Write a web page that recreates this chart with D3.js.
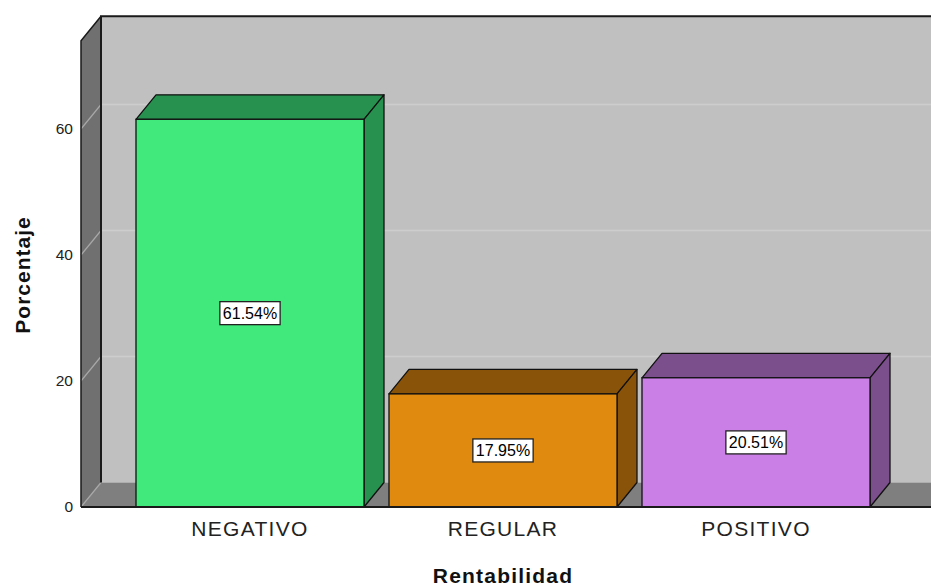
<!DOCTYPE html>
<html>
<head>
<meta charset="utf-8">
<script src="https://cdn.jsdelivr.net/npm/d3@7"></script>
<style>
  html, body { margin: 0; padding: 0; background: #ffffff; }
  svg { display: block; font-family: "Liberation Sans", Arial, sans-serif; }
</style>
</head>
<body>
<svg id="chart" width="931" height="588"></svg>
<script>
// Data
const categories = ["NEGATIVO", "REGULAR", "POSITIVO"];
const percentages = [61.54, 17.95, 20.51];
const valueLabels = ["61.54%", "17.95%", "20.51%"];
const yTicks = [0, 20, 40, 60];

// Styling
const frontColors = ["#41e87c", "#e08a0f", "#c97fe5"];
const shadeColors = ["#27914f", "#8a530a", "#7b4f8b"];

const svg = d3.select("#chart");
const W = 931;

// 3D depth offset of the walls and bars
const dx = 20, dy = -24.5;

// Front plane scales
const x = d3.scaleBand()
  .domain(categories)
  .range([123.5, 882.5])
  .paddingInner(25 / 253)
  .paddingOuter(12.5 / 253);

const y = d3.scaleLinear().domain([0, 74]).range([507, 40.8]);

const left = 81;            // front-left corner of the side wall
const right = W + 40;       // walls continue past the right edge
const y0 = y(0), yTop = y(74);

const g = svg.append("g");

// Back wall
g.append("rect")
  .attr("x", left + dx).attr("y", yTop + dy)
  .attr("width", right - left).attr("height", (y0 + dy) - (yTop + dy))
  .attr("fill", "#c0c0c0");

// Left side wall
g.append("path")
  .attr("d", `M${left},${y0} L${left},${yTop} L${left + dx},${yTop + dy} L${left + dx},${y0 + dy} Z`)
  .attr("fill", "#707070");

// Floor
g.append("path")
  .attr("d", `M${left},${y0} L${left + dx},${y0 + dy} L${right + dx},${y0 + dy} L${right},${y0} Z`)
  .attr("fill", "#7f7f7f");

// Grid lines on back wall and side wall
yTicks.forEach(t => {
  const yy = y(t);
  if (t > 0) {
    g.append("line")
      .attr("x1", left + dx).attr("x2", right + dx)
      .attr("y1", yy + dy).attr("y2", yy + dy)
      .attr("stroke", "#cdcdcd").attr("stroke-width", 1.4);
  }
  g.append("line")
    .attr("x1", left).attr("y1", yy)
    .attr("x2", left + dx).attr("y2", yy + dy)
    .attr("stroke", "#a8a8a8").attr("stroke-width", 1.2);
});

// Frame edges
const edge = (d, w) => g.append("path").attr("d", d).attr("fill", "none")
  .attr("stroke", "#1a1a1a").attr("stroke-width", w || 1.5);
edge(`M${left + dx},${y0 + dy} L${left + dx},${yTop + dy} L${right + dx},${yTop + dy}`, 2);
edge(`M${left},${y0} L${left},${yTop} L${left + dx},${yTop + dy}`, 1.5);
edge(`M${left},${y0} L${right},${y0}`, 2);

// Bars (front face, top, right side)
const bars = g.selectAll("g.bar")
  .data(categories.map((c, i) => ({ c, v: percentages[i], i })))
  .join("g").attr("class", "bar");

bars.each(function (d) {
  const b = d3.select(this);
  const x0 = x(d.c), x1 = x(d.c) + x.bandwidth();
  const yv = y(d.v);
  b.append("path")
    .attr("d", `M${x0},${yv} L${x0 + dx},${yv + dy} L${x1 + dx},${yv + dy} L${x1},${yv} Z`)
    .attr("fill", shadeColors[d.i]).attr("stroke", "#111").attr("stroke-width", 1.3)
    .attr("stroke-linejoin", "round");
  b.append("path")
    .attr("d", `M${x1},${yv} L${x1 + dx},${yv + dy} L${x1 + dx},${y0 + dy} L${x1},${y0} Z`)
    .attr("fill", shadeColors[d.i]).attr("stroke", "#111").attr("stroke-width", 1.3)
    .attr("stroke-linejoin", "round");
  b.append("rect")
    .attr("x", x0).attr("y", yv)
    .attr("width", x1 - x0).attr("height", y0 - yv)
    .attr("fill", frontColors[d.i]).attr("stroke", "#111").attr("stroke-width", 1.3);
});

// Baseline redrawn over bar bottoms
edge(`M${left},${y0} L${right},${y0}`, 2);

// Value labels in boxes
bars.each(function (d) {
  const b = d3.select(this);
  const cx = x(d.c) + x.bandwidth() / 2;
  const cy = y(d.v / 2);
  const t = b.append("text")
    .attr("x", cx).attr("y", cy)
    .attr("text-anchor", "middle").attr("dominant-baseline", "central")
    .attr("font-size", 16).attr("fill", "#000")
    .text(valueLabels[d.i]);
  const bb = t.node().getBBox();
  b.insert("rect", "text")
    .attr("x", bb.x - 3).attr("y", cy - 11.5)
    .attr("width", bb.width + 6).attr("height", 23)
    .attr("fill", "#fff").attr("stroke", "#222").attr("stroke-width", 1.3);
});

// Y axis labels
const yAxis = d3.axisLeft(y).tickValues(yTicks).tickSize(0).tickPadding(8)
  .tickFormat(d3.format("d"));
const ya = svg.append("g").attr("transform", `translate(${left},0)`).call(yAxis);
ya.select(".domain").remove();
ya.selectAll("text").attr("font-size", 15.5).attr("fill", "#222")
  .style("font-family", "'Liberation Sans', Arial, sans-serif");

// X axis labels
const xAxis = d3.axisBottom(x).tickSize(0).tickPadding(14);
const xa = svg.append("g").attr("transform", `translate(0,${y0})`).call(xAxis);
xa.select(".domain").remove();
xa.selectAll("text").attr("font-size", 21).attr("fill", "#222")
  .attr("letter-spacing", "1.3px")
  .style("font-family", "'Liberation Sans', Arial, sans-serif");

// Axis titles
svg.append("text")
  .attr("x", 503).attr("y", 583)
  .attr("text-anchor", "middle")
  .attr("font-size", 21).attr("font-weight", "bold").attr("fill", "#111")
  .attr("letter-spacing", "1.2px")
  .text("Rentabilidad");

svg.append("text")
  .attr("transform", "translate(30,275) rotate(-90)")
  .attr("text-anchor", "middle")
  .attr("font-size", 21).attr("font-weight", "bold").attr("fill", "#111")
  .attr("letter-spacing", "1px")
  .text("Porcentaje");
</script>
</body>
</html>
